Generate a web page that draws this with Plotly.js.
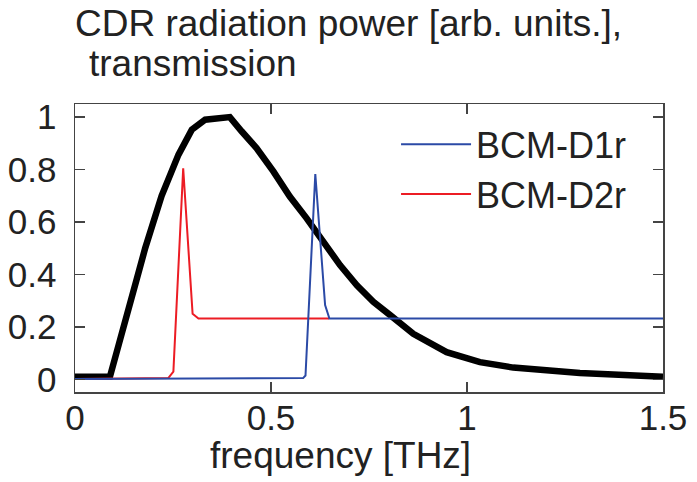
<!DOCTYPE html>
<html>
<head>
<meta charset="utf-8">
<script src="https://cdn.plot.ly/plotly-3.0.1.min.js"></script>
<style>html,body{margin:0;padding:0;background:#fff;}#chart{width:697px;height:482px;}</style>
</head>
<body>
<div id="chart"></div>
<script>
// CDR radiation power spectrum (black)
const cdrFreq = [0, 0.05, 0.089, 0.112, 0.136, 0.158, 0.179, 0.221, 0.264, 0.298, 0.332, 0.365, 0.395, 0.425, 0.463, 0.506, 0.548, 0.591, 0.633, 0.676, 0.719, 0.761, 0.804, 0.863, 0.948, 1.033, 1.118, 1.203, 1.288, 1.373, 1.5];
const cdrPower = [0.01, 0.01, 0.01, 0.135, 0.257, 0.385, 0.50, 0.70, 0.857, 0.952, 0.99, 0.997, 1.0, 0.946, 0.882, 0.793, 0.697, 0.614, 0.525, 0.436, 0.359, 0.296, 0.245, 0.174, 0.104, 0.066, 0.045, 0.032, 0.024, 0.019, 0.010];
// BCM-D1r transmission (blue)
const d1Freq = [0, 0.582, 0.588, 0.613, 0.638, 0.649, 1.5];
const d1Trans = [0.002, 0.005, 0.015, 0.783, 0.283, 0.232, 0.232];
// BCM-D2r transmission (red)
const d2Freq = [0, 0.238, 0.251, 0.276, 0.300, 0.315, 0.648];
const d2Trans = [0.002, 0.005, 0.03, 0.805, 0.25, 0.232, 0.232];
// axis ticks
const xTickVals = [0, 0.5, 1, 1.5];
const xTickText = ['0', '0.5', '1', '1.5'];
const yTickVals = [0, 0.2, 0.4, 0.6, 0.8, 1];
const yTickText = ['0', '0.2', '0.4', '0.6', '0.8', '1'];

const FONT = 'Liberation Sans, Arial, sans-serif';
const traces = [
  {x: cdrFreq, y: cdrPower, mode: 'lines', name: 'CDR', showlegend: false,
   line: {color: '#000000', width: 6.5}},
  {x: d2Freq, y: d2Trans, mode: 'lines', name: 'BCM-D2r', legendrank: 2,
   line: {color: '#ec1c24', width: 2}},
  {x: d1Freq, y: d1Trans, mode: 'lines', name: 'BCM-D1r', legendrank: 1,
   line: {color: '#2b4aa6', width: 2}}
];
const axisCommon = {
  showgrid: false, zeroline: false, showline: true, mirror: 'ticks',
  linecolor: '#444', linewidth: 1.5, ticks: 'inside', ticklen: 10,
  tickwidth: 1.5, tickcolor: '#444',
  tickfont: {family: FONT, size: 35, color: '#222'}
};
const layout = {
  width: 697, height: 482,
  paper_bgcolor: '#fff', plot_bgcolor: '#fff',
  margin: {l: 75, r: 34, t: 104, b: 90},
  font: {family: FONT, size: 35, color: '#222'},
  title: {text: 'CDR radiation power [arb. units.],',
          font: {family: FONT, size: 37, color: '#222'},
          xref: 'paper', x: 0, xanchor: 'left',
          yref: 'container', y: 0.979, yanchor: 'top'},
  xaxis: Object.assign({}, axisCommon, {range: [0, 1.5], tickvals: xTickVals, ticktext: xTickText, ticklabelstandoff: -6}),
  yaxis: Object.assign({}, axisCommon, {range: [-0.048, 1.05], tickvals: yTickVals, ticktext: yTickText, ticklabelstandoff: 10}),
  legend: {x: 0.546, y: 0.964, xanchor: 'left', yanchor: 'top', bgcolor: 'rgba(0,0,0,0)',
           itemwidth: 70,
           font: {family: FONT, size: 36, color: '#222'}, traceorder: 'normal'},
  annotations: [
    {text: 'transmission', xref: 'paper', yref: 'paper', x: 0.02, y: 1.139,
     xanchor: 'left', yanchor: 'middle', showarrow: false,
     font: {family: FONT, size: 37, color: '#222'}},
    {text: 'frequency [THz]', xref: 'paper', yref: 'paper', x: 0.452, y: -0.219,
     xanchor: 'center', yanchor: 'middle', showarrow: false,
     font: {family: FONT, size: 37, color: '#222'}}],
  showlegend: true
};
Plotly.newPlot('chart', traces, layout, {displayModeBar: false, staticPlot: true});
</script>
</body>
</html>
